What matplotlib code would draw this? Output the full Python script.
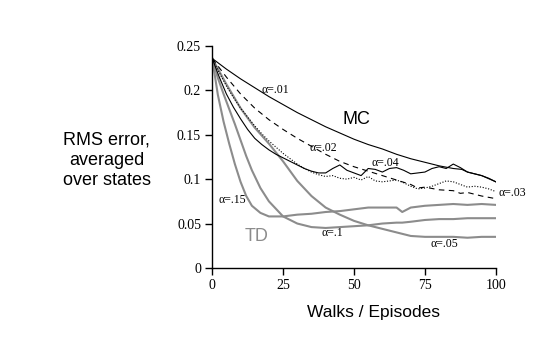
import matplotlib
matplotlib.use("Agg")
import matplotlib.pyplot as plt

SERIF = ['Liberation Serif', 'DejaVu Serif']
SANS = ['Liberation Sans', 'DejaVu Sans']
GRAY = '#8c8c8c'

# MC curves (black)
mc01_x = [0, 5, 10, 15, 20, 25, 30, 35, 40, 45, 50, 55, 60, 65, 70, 75, 80, 85, 88, 90, 95, 100]
mc01_y = [0.236, 0.224, 0.213, 0.203, 0.193, 0.184, 0.175, 0.167, 0.159, 0.152, 0.145,
          0.139, 0.134, 0.128, 0.123, 0.119, 0.115, 0.112, 0.111, 0.108, 0.104, 0.097]

mc02_x = [0, 5, 10, 15, 20, 25, 30, 35, 40, 45, 50, 55, 60, 65, 70, 72.5, 75, 80, 85, 87.5, 90, 95, 100]
mc02_y = [0.236, 0.215, 0.196, 0.180, 0.167, 0.156, 0.146, 0.137, 0.128, 0.120, 0.114,
          0.109, 0.104, 0.099, 0.094, 0.090, 0.091, 0.088, 0.087, 0.084, 0.085, 0.081, 0.078]

mc_x = [0, 2.5, 5, 7.5, 10, 12.5, 15, 17.5, 20, 22.5, 25, 27.5, 30, 32.5, 35, 37.5, 40,
        42.5, 45, 47.5, 50, 52.5, 55, 57.5, 60, 62.5, 65, 67.5, 70, 72.5, 75, 77.5, 80,
        82.5, 85, 87.5, 90, 92.5, 95, 97.5, 100]
mc03_y = [0.236, 0.220, 0.205, 0.192, 0.180, 0.170, 0.160, 0.151, 0.143, 0.136, 0.129,
          0.123, 0.117, 0.112, 0.108, 0.105, 0.103, 0.104, 0.101, 0.100, 0.102, 0.099,
          0.103, 0.098, 0.097, 0.098, 0.099, 0.096, 0.092, 0.089, 0.090, 0.092, 0.095,
          0.098, 0.097, 0.094, 0.091, 0.092, 0.091, 0.089, 0.086]
mc04_y = [0.236, 0.215, 0.196, 0.181, 0.168, 0.156, 0.146, 0.139, 0.133, 0.128, 0.124,
          0.120, 0.116, 0.112, 0.109, 0.107, 0.107, 0.112, 0.116, 0.110, 0.107, 0.104,
          0.112, 0.111, 0.108, 0.112, 0.113, 0.110, 0.106, 0.107, 0.108, 0.112, 0.114,
          0.112, 0.117, 0.113, 0.108, 0.106, 0.104, 0.101, 0.097]

# TD curves (gray)
td_x = [0, 2, 4, 6, 8, 10, 12, 14, 17, 20, 25, 30, 35, 40, 45, 50, 55, 60, 65, 67, 70,
        75, 80, 85, 90, 95, 100]
td15_y = [0.236, 0.195, 0.165, 0.140, 0.117, 0.097, 0.081, 0.070, 0.062, 0.058, 0.058,
          0.060, 0.061, 0.063, 0.064, 0.066, 0.068, 0.068, 0.068, 0.063, 0.068, 0.070,
          0.071, 0.072, 0.071, 0.072, 0.071]
td10_y = [0.236, 0.214, 0.196, 0.179, 0.162, 0.144, 0.126, 0.110, 0.090, 0.075, 0.058,
          0.050, 0.046, 0.045, 0.046, 0.047, 0.048, 0.050, 0.051, 0.051, 0.052, 0.054,
          0.055, 0.055, 0.056, 0.056, 0.056]
td05_x = [0, 5, 10, 15, 20, 25, 30, 35, 40, 45, 50, 55, 60, 65, 70, 75, 80, 85, 90, 95, 100]
td05_y = [0.236, 0.207, 0.180, 0.158, 0.140, 0.120, 0.098, 0.081, 0.068, 0.060, 0.053,
          0.048, 0.044, 0.040, 0.036, 0.035, 0.035, 0.035, 0.034, 0.035, 0.035]

x_ticks = [0, 25, 50, 75, 100]
y_ticks = [0, 0.05, 0.1, 0.15, 0.2, 0.25]
y_tick_labels = ['0', '0.05', '0.1', '0.15', '0.2', '0.25']


def main():
    fig = plt.figure(figsize=(5.54, 3.37), dpi=100)
    ax = fig.add_axes([0.383, 0.205, 0.512, 0.6585])

    ax.plot(td05_x, td05_y, color=GRAY, lw=1.5)
    ax.plot(td_x, td10_y, color=GRAY, lw=1.5)
    ax.plot(td_x, td15_y, color=GRAY, lw=1.5)

    ax.plot(mc01_x, mc01_y, color='k', lw=0.8)
    ax.plot(mc02_x, mc02_y, color='k', lw=0.8, ls=(0, (5, 4)))
    ax.plot(mc_x, mc03_y, color='k', lw=0.8, ls=(0, (1, 1.5)))
    ax.plot(mc_x, mc04_y, color='k', lw=0.8)

    # alpha labels
    lab = dict(fontsize=8.5, family=SERIF, va='center', ha='left')
    ax.text(17.5, 0.200, 'α=.01', **lab)
    ax.text(34.2, 0.135, 'α=.02', **lab)
    ax.text(56, 0.118, 'α=.04', **lab)
    ax.text(100.8, 0.084, 'α=.03', **lab)
    ax.text(2.1, 0.0766, 'α=.15', **lab)
    ax.text(38.7, 0.039, 'α=.1', **lab)
    ax.text(76.8, 0.027, 'α=.05', **lab)
    ax.text(45.8, 0.167, 'MC', fontsize=13, family=SANS, va='center', ha='left')
    ax.text(11.6, 0.035, 'TD', fontsize=13, family=SANS, va='center', ha='left', color=GRAY)

    ax.set_xlim(0, 100)
    ax.set_ylim(0, 0.25)
    ax.set_xticks(x_ticks)
    ax.set_yticks(y_ticks)
    ax.set_yticklabels(y_tick_labels)
    for s in ['top', 'right']:
        ax.spines[s].set_visible(False)
    ax.spines['left'].set_linewidth(1.0)
    ax.spines['bottom'].set_linewidth(1.0)
    ax.tick_params(direction='out', length=5, width=1, labelsize=10, pad=3)
    for t in ax.get_xticklabels() + ax.get_yticklabels():
        t.set_family(SERIF)

    fig.text(0.193, 0.525, 'RMS error,\naveraged\nover states', fontsize=13,
             family=SANS, ha='center', va='center', multialignment='center',
             linespacing=1.25)
    fig.text(0.675, 0.074, 'Walks / Episodes', fontsize=12.5, family=SANS,
             ha='center', va='center')

    fig.savefig('out.png', dpi=100)


if __name__ == "__main__":
    main()
